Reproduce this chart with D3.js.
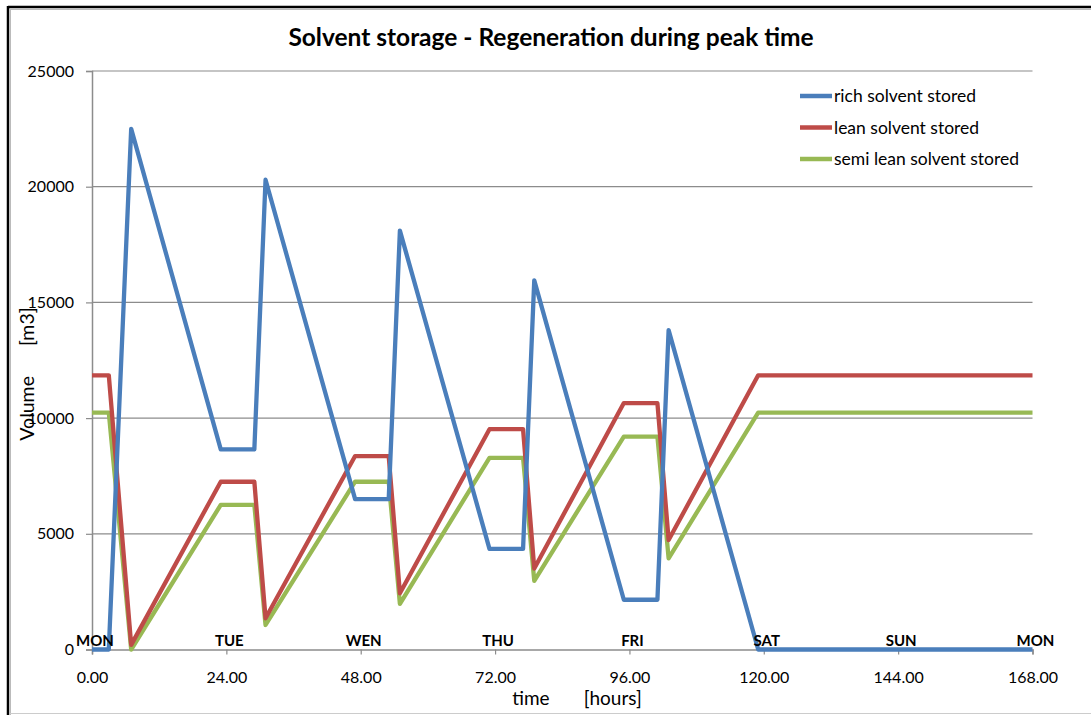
<!DOCTYPE html>
<html>
<head>
<meta charset="utf-8">
<script src="https://cdn.jsdelivr.net/npm/d3@7"></script>
<style>
  html, body { margin: 0; padding: 0; background: #fff; }
  svg { display: block; }
  text { font-family: Lato, "Open Sans", sans-serif; fill: #000; }
</style>
</head>
<body>
<svg id="chart" width="1091" height="715"></svg>
<script>
// Time in hours over one week
const hours = [0, 3, 7, 23, 29, 31, 47, 53, 55, 71, 77, 79, 95, 101, 103, 119, 168];

// Stored volumes [m3]
const richStored     = [0, 0, 22500, 8650, 8650, 20300, 6500, 6500, 18100, 4350, 4350, 15950, 2150, 2150, 13800, 0, 0];
const leanStored     = [11850, 11850, 200, 7250, 7250, 1350, 8360, 8360, 2430, 9520, 9520, 3500, 10650, 10650, 4730, 11850, 11850];
const semiLeanStored = [10240, 10240, 0, 6250, 6250, 1060, 7250, 7250, 1970, 8280, 8280, 2970, 9200, 9200, 3940, 10240, 10240];

const seriesNames  = ["rich solvent stored", "lean solvent stored", "semi lean solvent stored"];
const seriesColors = ["#4A7EBB", "#BE4B48", "#98B954"];

const xTicks   = [0, 24, 48, 72, 96, 120, 144, 168];
const dayNames = ["MON", "TUE", "WEN", "THU", "FRI", "SAT", "SUN", "MON"];
const yTicks   = [0, 5000, 10000, 15000, 20000, 25000];

const svg = d3.select("#chart");
const W = 1091, H = 715;

// chart area frame
svg.append("rect").attr("x", 0).attr("y", 0).attr("width", W).attr("height", H).attr("fill", "#fff");
svg.append("line").attr("x1", 8).attr("x2", W).attr("y1", 7).attr("y2", 7)
  .attr("stroke", "#000").attr("stroke-width", 2.5);
svg.append("line").attr("x1", 10).attr("x2", W).attr("y1", 9.5).attr("y2", 9.5)
  .attr("stroke", "#bbb").attr("stroke-width", 1);
svg.append("line").attr("x1", 8).attr("x2", 8).attr("y1", 6).attr("y2", H)
  .attr("stroke", "#000").attr("stroke-width", 2.5);
svg.append("line").attr("x1", 10.5).attr("x2", 10.5).attr("y1", 9).attr("y2", H)
  .attr("stroke", "#bbb").attr("stroke-width", 1);
svg.append("line").attr("x1", 10).attr("x2", W).attr("y1", 713.5).attr("y2", 713.5)
  .attr("stroke", "#ccc").attr("stroke-width", 1);

const x = d3.scaleLinear().domain([0, 168]).range([92, 1032.5]);
const y = d3.scaleLinear().domain([0, 25000]).range([649.5, 71]);

// horizontal gridlines
svg.append("g").selectAll("line").data(yTicks.filter(d => d > 0)).join("line")
  .attr("x1", x(0)).attr("x2", x(168))
  .attr("y1", d => y(d)).attr("y2", d => y(d))
  .attr("stroke", "#8c8c8c").attr("stroke-width", 1.2);

// y axis
const yAxis = svg.append("g").attr("transform", `translate(${x(0)},0)`)
  .call(d3.axisLeft(y).tickValues(yTicks).tickFormat(d3.format("d")).tickSize(6).tickPadding(12));
yAxis.select(".domain").attr("stroke", "#8c8c8c").attr("stroke-width", 1.5);
yAxis.selectAll(".tick line").attr("stroke", "#8c8c8c").attr("stroke-width", 1.2);
yAxis.selectAll(".tick text").attr("font-size", 16).attr("font-family", "Lato, sans-serif").attr("fill", "#000");

// x axis
const xAxis = svg.append("g").attr("transform", `translate(0,${y(0)})`)
  .call(d3.axisBottom(x).tickValues(xTicks).tickFormat(d3.format(".2f")).tickSize(5).tickPadding(17));
xAxis.select(".domain").attr("stroke", "#8c8c8c").attr("stroke-width", 1.5);
xAxis.selectAll(".tick line").attr("stroke", "#8c8c8c").attr("stroke-width", 1.2);
xAxis.selectAll(".tick text").attr("font-size", 16).attr("font-family", "Lato, sans-serif").attr("fill", "#000");

// series lines
const allSeries = [richStored, leanStored, semiLeanStored];
const line = d3.line().x((d, i) => x(hours[i])).y(d => y(d));
[2, 1, 0].forEach(k => {
  svg.append("path").datum(allSeries[k])
    .attr("d", line)
    .attr("fill", "none")
    .attr("stroke", seriesColors[k])
    .attr("stroke-width", 4.3)
    .attr("stroke-linejoin", "round");
});

// weekday labels above the axis
svg.append("g").selectAll("text").data(xTicks).join("text")
  .attr("x", d => x(d) + 3)
  .attr("y", y(0) - 3.5)
  .attr("text-anchor", "middle")
  .attr("font-weight", "bold")
  .attr("font-size", 15)
  .text((d, i) => dayNames[i]);

// title
svg.append("text")
  .attr("x", 551).attr("y", 46)
  .attr("text-anchor", "middle")
  .attr("font-weight", "bold")
  .attr("font-size", 24.5)
  .text("Solvent storage - Regeneration during peak time");

// axis titles
svg.append("text")
  .attr("x", 577).attr("y", 705)
  .attr("text-anchor", "middle")
  .attr("font-size", 19)
  .style("white-space", "pre")
  .text("time       [hours]");

svg.append("text")
  .attr("transform", "translate(34,374) rotate(-90)")
  .attr("text-anchor", "middle")
  .attr("font-size", 19.5)
  .style("white-space", "pre")
  .text("Volume      [m3]");

// legend
const legend = svg.append("g").selectAll("g").data(seriesNames).join("g")
  .attr("transform", (d, i) => `translate(800,${96 + i * 31.5})`);
legend.append("line").attr("x1", 0).attr("x2", 32).attr("y1", 0).attr("y2", 0)
  .attr("stroke", (d, i) => seriesColors[i]).attr("stroke-width", 4.5);
legend.append("text").attr("x", 34).attr("y", 6)
  .attr("font-size", 17.5)
  .text(d => d);
</script>
</body>
</html>
